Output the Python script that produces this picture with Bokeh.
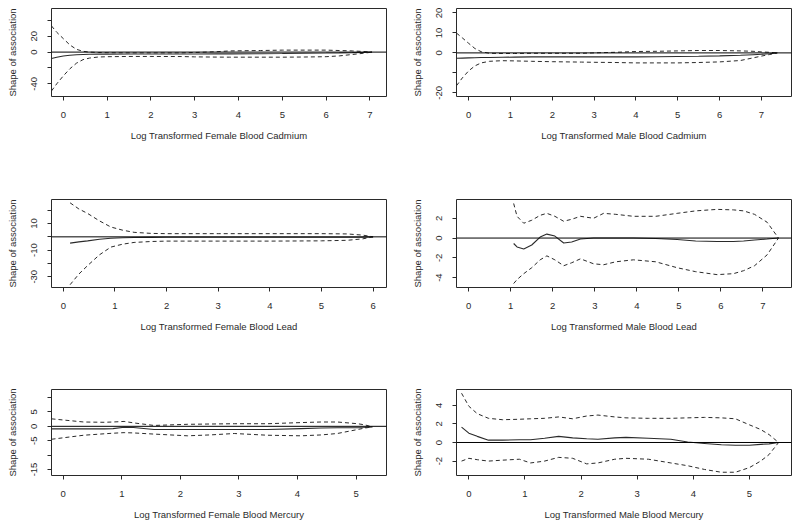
from bokeh.plotting import figure
from bokeh.layouts import gridplot
from bokeh.models import Range1d, FixedTicker, Span
from bokeh.embed import file_html
from bokeh.resources import INLINE

# ---------------- data ----------------
# Panel 1: Female Blood Cadmium
x_fcd = [-0.27, -0.15, 0.0, 0.15, 0.3, 0.45, 0.6, 0.8, 1.0, 1.5, 2.0, 2.7, 3.0, 3.5, 3.8, 4.5, 5.0, 5.5, 6.0, 6.3, 6.6, 6.85, 7.05]
up_fcd = [33, 25, 17, 9, 3.5, 1, 0, -0.5, -0.8, -1, -1, -1, -0.5, 0.5, 1.5, 2, 2.5, 2.5, 2.5, 2, 1.5, 0.8, 0]
fit_fcd = [-8, -6.5, -5, -4, -3.3, -3, -2.8, -2.6, -2.5, -2.4, -2.4, -2.3, -2.3, -2.2, -2.2, -2, -1.8, -1.5, -1.2, -1, -0.7, -0.4, 0]
lo_fcd = [-49, -40, -30, -21, -14, -9.5, -7.5, -6.2, -5.8, -5.5, -5.5, -5.6, -6, -6.3, -6.4, -6.4, -6.4, -6.2, -5.8, -4.8, -3, -1.5, 0]

# Panel 2: Male Blood Cadmium
x_mcd = [-0.29, -0.15, 0.0, 0.15, 0.3, 0.5, 0.8, 1.1, 1.5, 2.0, 2.7, 3.0, 3.5, 4.0, 4.5, 5.0, 5.5, 6.0, 6.5, 6.8, 7.0, 7.2, 7.38]
up_mcd = [9.9, 7.5, 4.8, 2.2, 0.6, -0.2, -0.3, -0.3, -0.2, -0.2, -0.2, 0, 0.3, 0.7, 0.8, 1.0, 1.2, 1.2, 1.0, 0.8, 0.5, 0.3, 0]
fit_mcd = [-2.7, -2.6, -2.5, -2.4, -2.3, -2.3, -2.2, -2.1, -2.0, -2.0, -2.0, -2.0, -2.0, -2.0, -1.9, -1.8, -1.7, -1.5, -1.2, -0.9, -0.7, -0.4, 0]
lo_mcd = [-16.4, -12.5, -9, -6.5, -5, -4.2, -3.9, -4.0, -4.2, -4.4, -4.6, -4.7, -4.8, -5.0, -5.0, -5.0, -4.8, -4.5, -3.8, -2.5, -1.6, -0.8, 0]

# Panel 3: Female Blood Lead
x_fpb = [0.13, 0.3, 0.47, 0.7, 0.92, 1.15, 1.37, 1.7, 2.0, 3.0, 4.0, 5.0, 5.5, 5.8, 6.0]
up_fpb = [25.6, 21, 17.6, 12, 7.4, 5, 3.4, 2.6, 2.4, 2.4, 2.4, 2.4, 2.2, 1.3, 0]
fit_fpb = [-4.7, -3.8, -3.0, -1.8, -1.0, -0.7, -0.5, -0.4, -0.3, -0.3, -0.3, -0.3, -0.3, -0.2, 0]
lo_fpb = [-36, -28, -21.6, -13.5, -7.7, -5.5, -4.2, -3.5, -3.2, -3.2, -3.2, -3.0, -2.6, -1.5, 0]

# Panel 4: Male Blood Lead
x_mpb = [1.07, 1.15, 1.31, 1.5, 1.7, 1.86, 2.05, 2.26, 2.45, 2.66, 2.97, 3.21, 3.5, 3.92, 4.45, 4.96, 5.4, 5.91, 6.3, 6.54, 6.8, 7.1, 7.37]
up_mpb = [3.5, 2.2, 1.5, 1.8, 2.3, 2.5, 2.2, 1.7, 1.9, 2.2, 2.0, 2.5, 2.4, 2.2, 2.2, 2.5, 2.75, 2.9, 2.85, 2.75, 2.4, 1.6, 0]
fit_mpb = [-0.55, -0.9, -1.1, -0.7, 0.1, 0.4, 0.2, -0.5, -0.4, -0.1, 0, 0, 0, 0, -0.05, -0.15, -0.3, -0.35, -0.35, -0.3, -0.2, -0.1, 0]
lo_mpb = [-4.6, -4.2, -3.6, -3.0, -2.2, -1.8, -2.2, -2.8, -2.5, -2.1, -2.6, -2.7, -2.4, -2.2, -2.4, -3.0, -3.4, -3.7, -3.6, -3.3, -2.8, -1.7, 0]

# Panel 5: Female Blood Mercury
x_fhg = [-0.2, 0.35, 0.7, 0.85, 1.04, 1.2, 1.55, 2.12, 2.5, 2.92, 3.49, 4.06, 4.4, 4.68, 5.03, 5.15, 5.28]
up_fhg = [2.6, 1.5, 1.4, 1.5, 1.7, 1.2, 0.3, 0.7, 0.8, 0.9, 0.9, 1.3, 1.5, 1.5, 0.9, 0.5, -0.2]
fit_fhg = [-0.9, -0.9, -0.9, -0.8, -0.3, -0.4, -1.1, -1.1, -1.1, -1.1, -1.1, -0.8, -0.6, -0.5, -0.5, -0.4, -0.2]
lo_fhg = [-4.5, -3.1, -2.6, -2.4, -2.2, -2.3, -2.7, -3.3, -3.0, -2.5, -3.1, -3.3, -3.0, -2.5, -1.1, -0.6, -0.2]

# Panel 6: Male Blood Mercury
x_mhg = [-0.13, 0.0, 0.15, 0.35, 0.6, 0.9, 1.1, 1.35, 1.6, 1.85, 2.1, 2.3, 2.6, 2.8, 3.2, 3.6, 3.9, 4.2, 4.5, 4.75, 5.0, 5.2, 5.35, 5.52]
up_mhg = [5.3, 3.9, 3.1, 2.6, 2.45, 2.5, 2.55, 2.6, 2.75, 2.55, 2.85, 2.95, 2.75, 2.65, 2.6, 2.6, 2.65, 2.7, 2.65, 2.55, 1.9, 1.4, 0.85, 0]
fit_mhg = [1.65, 1.0, 0.66, 0.25, 0.25, 0.3, 0.3, 0.45, 0.66, 0.5, 0.4, 0.35, 0.5, 0.55, 0.45, 0.35, 0.05, -0.1, -0.25, -0.3, -0.3, -0.2, -0.15, 0]
lo_mhg = [-2.0, -1.7, -1.85, -2.0, -1.9, -1.8, -2.2, -2.0, -1.6, -1.7, -2.3, -2.2, -1.8, -1.7, -1.8, -2.2, -2.5, -2.9, -3.2, -3.2, -2.7, -2.0, -1.3, 0]

# axis titles and tick labels
titles = ["Log Transformed Female Blood Cadmium", "Log Transformed Male Blood Cadmium",
          "Log Transformed Female Blood Lead", "Log Transformed Male Blood Lead",
          "Log Transformed Female Blood Mercury", "Log Transformed Male Blood Mercury"]
y_title = "Shape of association"
xticks_list = [[0, 1, 2, 3, 4, 5, 6, 7], [0, 1, 2, 3, 4, 5, 6, 7],
               [0, 1, 2, 3, 4, 5, 6], [0, 1, 2, 3, 4, 5, 6, 7],
               [0, 1, 2, 3, 4, 5], [0, 1, 2, 3, 4, 5]]
yticks_list = [[-40, -20, 0, 20, 40], [-20, -10, 0, 10, 20],
               [-30, -20, -10, 0, 10, 20], [-4, -2, 0, 2],
               [-15, -10, -5, 0, 5, 10], [-2, 0, 2, 4]]
ylabels_list = [["-40", "", "0", "20", ""], ["-20", "", "0", "10", "20"],
                ["-30", "", "-10", "", "10", ""], ["-4", "-2", "0", "2"],
                ["-15", "", "-5", "0", "5", ""], ["-2", "0", "2", "4"]]
xranges = [(-0.27, 7.38), (-0.29, 7.72), (-0.23, 6.26), (-0.29, 7.68), (-0.2, 5.52), (-0.22, 5.75)]
yranges = [(-56, 55), (-21.8, 22.2), (-38.1, 28.1), (-5.0, 3.9), (-17.1, 12.8), (-3.55, 5.7)]

series = [(x_fcd, fit_fcd, lo_fcd, up_fcd), (x_mcd, fit_mcd, lo_mcd, up_mcd),
          (x_fpb, fit_fpb, lo_fpb, up_fpb), (x_mpb, fit_mpb, lo_mpb, up_mpb),
          (x_fhg, fit_fhg, lo_fhg, up_fhg), (x_mhg, fit_mhg, lo_mhg, up_mhg)]

FONT = "Liberation Sans"
FS = "9.5px"
TXT = "#2a2a2a"
LINE = "#2a2a2a"


def make_panel(i, height, top, bottom):
    x, fit, lo, up = series[i]
    left_col = (i % 2 == 0)
    p = figure(width=400 if left_col else 392, height=height,
               x_range=Range1d(*xranges[i]), y_range=Range1d(*yranges[i]),
               output_backend="svg", toolbar_location=None,
               min_border_left=51 if left_col else 56,
               min_border_right=14 if left_col else 1,
               min_border_top=top, min_border_bottom=bottom,
               background_fill_color="white", border_fill_color="white")
    p.outline_line_color = LINE
    p.outline_line_width = 1
    p.xgrid.visible = False
    p.ygrid.visible = False

    p.line(x, fit, line_color=LINE, line_width=1.1)
    p.line(x, up, line_color=LINE, line_width=1, line_dash="4 3")
    p.line(x, lo, line_color=LINE, line_width=1, line_dash="4 3")
    p.add_layout(Span(location=0, dimension="width", line_color="black", line_width=1))

    xt = xticks_list[i]
    p.xaxis.ticker = FixedTicker(ticks=xt)
    p.xaxis.major_label_overrides = {t: str(t) for t in xt}
    yt = yticks_list[i]
    p.yaxis.ticker = FixedTicker(ticks=yt)
    p.yaxis.major_label_overrides = {t: lab for t, lab in zip(yt, ylabels_list[i])}
    p.yaxis.major_label_orientation = "vertical"

    p.xaxis.axis_label = titles[i]
    p.yaxis.axis_label = y_title
    for ax in (p.xaxis[0], p.yaxis[0]):
        ax.axis_line_color = None
        ax.major_tick_in = 0
        ax.major_tick_out = 4
        ax.major_tick_line_color = LINE
        ax.minor_tick_line_color = None
        ax.major_label_text_font = FONT
        ax.major_label_text_font_size = FS
        ax.major_label_text_color = TXT
        ax.axis_label_text_font = FONT
        ax.axis_label_text_font_size = FS
        ax.axis_label_text_font_style = "normal"
        ax.axis_label_text_color = TXT
    p.xaxis.major_label_standoff = 11
    p.xaxis.axis_label_standoff = 9
    p.yaxis.major_label_standoff = 10
    p.yaxis.axis_label_standoff = 11
    return p


heights = [199, 199, 190, 190, 133, 133]
tops = [8, 8, 0, 0, 0, 0]
bottoms = [103, 103, 102, 102, 45, 45]
panels = [make_panel(i, heights[i], tops[i], bottoms[i]) for i in range(6)]

grid = gridplot([[panels[0], panels[1]], [panels[2], panels[3]], [panels[4], panels[5]]],
                toolbar_location=None)

open("out.html", "w").write(file_html(grid, INLINE))
